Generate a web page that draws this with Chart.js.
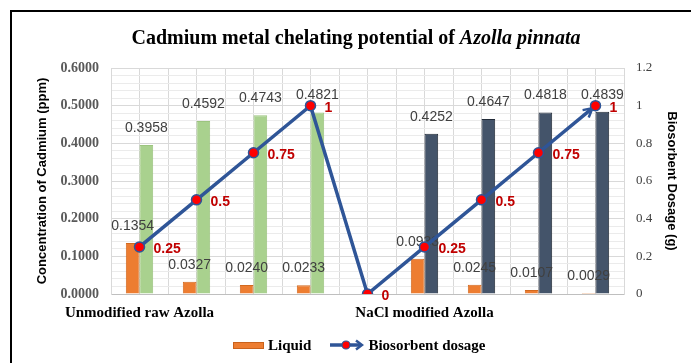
<!DOCTYPE html>
<html>
<head>
<meta charset="utf-8">
<title>Cadmium metal chelating potential</title>
<script src="https://cdn.jsdelivr.net/npm/chart.js@4.4.0/dist/chart.umd.min.js"></script>
<style>
  html, body { margin: 0; padding: 0; background: #fff; overflow: hidden; }
  body { width: 691px; height: 363px; position: relative; }
  .frame {
    position: absolute; left: 10px; top: 10px; width: 760px; height: 420px;
    border-left: 2px solid #000; border-top: 2px solid #000;
  }
  .title {
    position: absolute; left: 0; top: 25px; width: 712px;
    text-align: center; font: bold 20px/24px "Liberation Serif", serif; color: #000;
  }
  #cdChart { position: absolute; left: 0; top: 0; }
  .legend {
    position: absolute; left: 233px; top: 336px; height: 18px;
    display: flex; align-items: center;
    font: bold 15px/18px "Liberation Serif", serif; color: #000;
  }
  .legend .swatch {
    display: inline-block; width: 29px; height: 5px;
    background: #ed7d31; border: 1px solid #c9621c; margin-right: 4px;
  }
  .legend canvas { margin-left: 19px; margin-right: 4px; }
</style>
</head>
<body>
<div class="frame"></div>
<canvas id="cdChart" width="691" height="363"></canvas>
<div class="title">Cadmium metal chelating potential of <i>Azolla pinnata</i></div>
<div class="legend">
  <span class="swatch"></span><span>Liquid</span>
  <canvas id="dosageKey" width="34" height="12"></canvas><span>Biosorbent dosage</span>
</div>
<script>
// categories: four dosages of raw Azolla, a zero point, four dosages of NaCl-treated Azolla
const categories = ['Unmodified raw Azolla', '', '', '', '', 'NaCl modified Azolla', '', '', ''];
const liquid = [0.1354, 0.0327, 0.0240, 0.0233, null, 0.0933, 0.0245, 0.0107, 0.0029];
const biomass = [0.3958, 0.4592, 0.4743, 0.4821, null, 0.4252, 0.4647, 0.4818, 0.4839];
const dosage = [0.25, 0.5, 0.75, 1, 0, 0.25, 0.5, 0.75, 1];
const concRange = [0, 0.6];
const dosageRange = [0, 1.2];

const BLUE = '#2f5597';
const GRID = '#d9d9d9';
const GRID_MINOR = '#ebebeb';

const biomassColors = ['#a9d18e', '#a9d18e', '#a9d18e', '#a9d18e', null, '#44546a', '#44546a', '#44546a', '#44546a'];
const biomassBorders = ['#9cc47f', '#9cc47f', '#9cc47f', '#9cc47f', null, '#222b38', '#222b38', '#222b38', '#222b38'];

// legend key for the dosage line: line, red marker, open arrow
(function drawDosageKey() {
  const g = document.getElementById('dosageKey').getContext('2d');
  g.strokeStyle = BLUE;
  g.lineWidth = 3.5;
  g.beginPath(); g.moveTo(0, 6); g.lineTo(30, 6); g.stroke();
  g.lineWidth = 2.5;
  g.beginPath(); g.moveTo(26, 1.5); g.lineTo(32, 6); g.lineTo(26, 10.5); g.stroke();
  g.fillStyle = '#ff0000';
  g.lineWidth = 1.2;
  g.beginPath(); g.arc(16, 6, 4, 0, Math.PI * 2); g.fill(); g.stroke();
})();

// value labels over bars (drawn under the line) and red dosage labels next to points
const valueLabels = {
  id: 'valueLabels',
  beforeDatasetDraw(chart, args) {
    if (args.meta.type !== 'line') return;
    // open arrow head on the last segment of the dosage line
    const pts = args.meta.data;
    const a = pts[pts.length - 2], b = pts[pts.length - 1];
    const ang = Math.atan2(b.y - a.y, b.x - a.x);
    const tx = b.x - 4 * Math.cos(ang), ty = b.y - 4 * Math.sin(ang);
    const ctx = chart.ctx;
    ctx.save();
    ctx.strokeStyle = BLUE;
    ctx.lineWidth = 2.5;
    ctx.beginPath();
    ctx.moveTo(tx - 10 * Math.cos(ang - 0.5), ty - 10 * Math.sin(ang - 0.5));
    ctx.lineTo(tx, ty);
    ctx.lineTo(tx - 10 * Math.cos(ang + 0.5), ty - 10 * Math.sin(ang + 0.5));
    ctx.stroke();
    ctx.restore();
  },
  afterDatasetDraw(chart, args) {
    if (args.meta.type !== 'bar') return;
    const ds = chart.data.datasets[args.index];
    const ctx = chart.ctx;
    ctx.save();
    ctx.font = '14px "Liberation Sans"';
    ctx.fillStyle = '#404040';
    ctx.textAlign = 'center';
    ctx.textBaseline = 'middle';
    args.meta.data.forEach((bar, i) => {
      const v = ds.data[i];
      if (v == null) return;
      ctx.fillText(v.toFixed(4), bar.x, bar.y - 17);
    });
    ctx.restore();
  },
  afterDatasetsDraw(chart) {
    const meta = chart.getDatasetMeta(0);
    const ctx = chart.ctx;
    ctx.save();
    ctx.font = 'bold 14px "Liberation Sans"';
    ctx.fillStyle = '#c00000';
    ctx.textAlign = 'left';
    ctx.textBaseline = 'middle';
    meta.data.forEach((pt, i) => {
      ctx.fillText(String(dosage[i]), pt.x + 14, pt.y + 2);
    });
    ctx.restore();
  }
};

new Chart(document.getElementById('cdChart'), {
  data: {
    labels: categories,
    datasets: [
      {
        type: 'line',
        label: 'Biosorbent dosage',
        data: dosage,
        yAxisID: 'y1',
        order: 0,
        borderColor: BLUE,
        borderWidth: 3.5,
        tension: 0,
        pointRadius: 5,
        pointBackgroundColor: '#ff0000',
        pointBorderColor: BLUE,
        pointBorderWidth: 1.5
      },
      {
        type: 'bar',
        label: 'Liquid',
        data: liquid,
        yAxisID: 'y',
        order: 1,
        backgroundColor: '#ed7d31',
        borderColor: '#d2691f',
        borderWidth: 1,
        categoryPercentage: 0.48,
        barPercentage: 1
      },
      {
        type: 'bar',
        label: 'Biomass',
        data: biomass,
        yAxisID: 'y',
        order: 2,
        backgroundColor: biomassColors,
        borderColor: biomassBorders,
        borderWidth: 1,
        categoryPercentage: 0.48,
        barPercentage: 1
      }
    ]
  },
  options: {
    responsive: false,
    animation: false,
    devicePixelRatio: 1,
    layout: { padding: { left: 30, right: 8, top: 68, bottom: 41 } },
    plugins: {
      tooltip: { enabled: false },
      legend: { display: false }
    },
    scales: {
      x: {
        type: 'category',
        offset: true,
        grid: { offset: true, color: GRID, drawTicks: false },
        border: { color: '#bfbfbf' },
        ticks: {
          autoSkip: false,
          maxRotation: 0,
          padding: 10,
          color: '#000',
          font: { family: 'Liberation Serif', size: 15, weight: 'bold' }
        },
        afterFit: s => { s.height = 28; }
      },
      x2: {
        type: 'category',
        position: 'top',
        offset: true,
        grid: { offset: false, color: GRID, drawTicks: false },
        border: { display: false },
        ticks: { display: false }
      },
      y: {
        position: 'left',
        min: concRange[0],
        max: concRange[1],
        afterBuildTicks: s => {
          // major steps of 0.1 with four minor lines in between
          const ticks = [];
          for (let i = 0; i <= 30; i++) ticks.push({ value: i / 50 });
          s.ticks = ticks;
        },
        grid: {
          drawTicks: false,
          color: c => (c.tick && Math.round(c.tick.value * 50) % 5 === 0) ? GRID : GRID_MINOR
        },
        border: { color: GRID },
        ticks: {
          autoSkip: false,
          padding: 12,
          color: '#595959',
          font: { family: 'Liberation Serif', size: 14, weight: 'bold' },
          callback: v => (Math.round(v * 50) % 5 === 0 ? v.toFixed(4) : '')
        },
        title: {
          display: true,
          text: 'Concentration of Cadmium (ppm)',
          color: '#000',
          padding: { top: 5, bottom: 0 },
          font: { family: 'Liberation Sans', size: 13, weight: 'bold' }
        },
        afterFit: s => { s.width = 81; }
      },
      y1: {
        position: 'right',
        min: dosageRange[0],
        max: dosageRange[1],
        grid: { drawOnChartArea: false, drawTicks: false },
        border: { color: GRID },
        ticks: {
          stepSize: 0.2,
          autoSkip: false,
          padding: 12,
          color: '#404040',
          font: { family: 'Liberation Serif', size: 13 },
          callback: v => String(Math.round(v * 10) / 10)
        },
        title: {
          display: true,
          text: 'Biosorbent Dosage (g)',
          color: '#000',
          padding: { top: 4, bottom: 0 },
          font: { family: 'Liberation Sans', size: 13, weight: 'bold' }
        },
        afterFit: s => { s.width = 59; }
      }
    }
  },
  plugins: [valueLabels]
});
</script>
</body>
</html>
